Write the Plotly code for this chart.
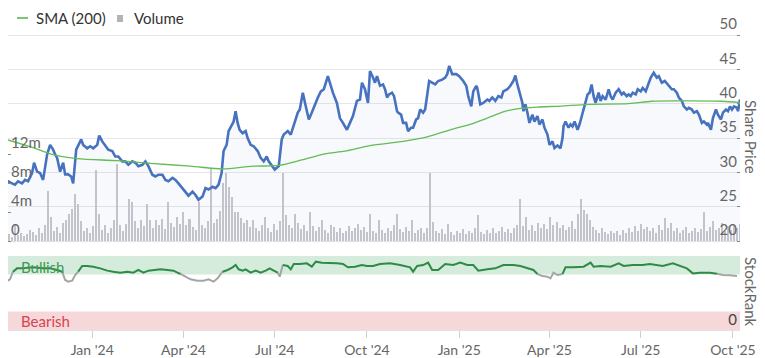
import pandas as pd
import plotly.graph_objects as go

# ---------------- data ----------------
start_date = "2023-10-07"   # day 0 of the day offsets below
view_start = "2023-10-09"   # first day shown
view_end = "2025-10-08"     # last day shown

# Share price: day offset from start_date, price
price_day = [0, 2, 6, 9, 12, 16, 19, 22, 26, 28, 31, 34, 37, 39, 41, 44, 47, 49, 51, 54,
             57, 59, 62, 65, 67, 70, 72, 75, 77, 81, 84, 87, 91, 93, 96, 99, 102, 106, 109, 112,
             116, 119, 122, 126, 129, 132, 136, 139, 142, 146, 149, 152, 156, 159, 162, 166, 169, 172, 176, 179,
             182, 186, 189, 192, 196, 199, 202, 206, 209, 212, 215, 217, 220, 222, 224, 227, 229, 231, 233, 236,
             239, 241, 244, 247, 251, 254, 257, 260, 262, 265, 268, 272, 275, 277, 281, 284, 287, 291, 293, 296,
             299, 302, 305, 308, 311, 314, 317, 321, 323, 326, 330, 333, 336, 340, 343, 346, 350, 353, 355, 358,
             361, 363, 366, 368, 370, 373, 376, 378, 380, 382, 385, 387, 390, 391, 394, 396, 399, 401, 404, 406,
             409, 411, 413, 416, 418, 420, 422, 425, 428, 431, 435, 438, 440, 442, 445, 449, 452, 456, 459, 461,
             464, 466, 469, 470, 473, 476, 480, 482, 485, 488, 491, 494, 496, 500, 503, 506, 508, 510, 512, 515,
             516, 518, 520, 522, 525, 527, 530, 532, 535, 537, 540, 542, 545, 547, 550, 552, 553, 555, 556, 558,
             561, 563, 565, 567, 570, 572, 575, 577, 580, 582, 584, 586, 588, 591, 593, 595, 598, 601, 603, 605,
             608, 611, 614, 616, 619, 621, 623, 625, 628, 630, 633, 635, 638, 640, 643, 646, 649, 651, 654, 657,
             660, 664, 666, 669, 671, 674, 676, 679, 681, 684, 686, 689, 691, 694, 696, 699, 700, 703, 705, 708,
             710, 713, 715, 718, 720, 722, 724, 726, 729, 730, 732]
price = [28.2, 28.7, 28.4, 28.2, 28.7, 28.4, 28.9, 28.7, 29.9, 31.4, 30.1, 29.9, 28.9, 30.6, 32.6, 34.0, 33.3, 32.6, 32.1, 30.1,
         31.4, 29.7, 29.7, 29.4, 28.4, 33.3, 34.0, 34.8, 34.0, 33.5, 33.8, 33.5, 34.0, 35.35, 34.5, 33.8, 33.3, 33.1, 32.3, 32.3,
         31.6, 31.6, 31.1, 31.6, 31.4, 30.9, 31.1, 31.6, 30.9, 29.65, 29.4, 29.65, 29.65, 28.9, 28.7, 29.2, 28.9, 28.4, 27.7, 27.1,
         26.6, 27.2, 26.7, 26.0, 26.5, 27.7, 27.5, 27.9, 27.7, 28.2, 29.9, 33.1, 34.0, 36.0, 36.5, 37.4, 38.9, 37.2, 36.2, 35.7,
         36.0, 35.0, 34.0, 33.8, 33.1, 32.1, 31.6, 32.3, 31.6, 30.9, 30.4, 30.9, 34.8, 35.5, 36.0, 35.5, 37.0, 38.7, 39.15, 41.6,
         39.6, 37.7, 38.7, 39.9, 40.9, 41.8, 42.1, 44.0, 43.05, 41.6, 40.1, 37.9, 37.2, 36.2, 37.2, 38.2, 40.4, 40.6, 43.05, 42.1,
         40.1, 44.75, 43.8, 43.05, 44.0, 42.6, 42.8, 42.1, 40.9, 41.35, 41.6, 41.1, 38.9, 38.7, 38.4, 37.2, 37.2, 36.0, 36.5, 36.5,
         37.7, 37.9, 39.15, 38.7, 39.15, 40.9, 43.3, 43.05, 42.8, 43.3, 43.5, 43.8, 44.3, 45.5, 44.3, 44.3, 44.0, 43.3, 42.6, 41.1,
         39.6, 41.8, 42.6, 42.3, 39.9, 40.1, 40.6, 40.4, 40.9, 40.4, 41.1, 40.9, 41.8, 42.1, 42.6, 43.3, 44.1, 42.8, 41.8, 40.1,
         38.9, 39.9, 38.7, 37.2, 38.4, 37.4, 38.2, 36.96, 37.7, 36.5, 35.5, 34.0, 34.5, 33.55, 33.9, 33.7, 33.5, 35.0, 36.7, 37.4,
         36.5, 37.0, 36.7, 37.4, 36.2, 37.0, 38.7, 39.6, 41.35, 41.6, 42.8, 41.1, 40.1, 41.6, 40.4, 41.1, 40.6, 42.1, 41.1, 40.6,
         41.6, 42.1, 41.35, 41.6, 41.1, 41.35, 41.1, 41.6, 41.35, 42.1, 41.8, 42.3, 41.8, 42.6, 43.8, 44.5, 43.8, 44.0, 43.05, 43.3,
         42.8, 42.1, 42.1, 41.6, 40.9, 40.4, 39.6, 39.15, 39.4, 39.15, 38.7, 38.9, 38.4, 37.2, 37.4, 36.96, 37.2, 36.2, 37.9, 39.15,
         38.4, 37.7, 38.7, 39.15, 38.9, 39.6, 39.15, 39.6, 39.4, 38.9, 40.6]

# 200-day simple moving average
sma_day = [0, 27, 44, 71, 111, 144, 184, 216, 246, 272, 295, 318, 338, 363, 396, 421, 443, 463, 480,
           496, 510, 530, 553, 581, 621, 644, 680, 714, 732]
sma = [34.8, 33.6, 32.7, 32.0, 31.7, 31.3, 30.9, 30.5, 30.9, 31.0, 31.8, 32.7, 33.1, 33.9, 34.5, 35.2, 36.2, 37.0, 37.9,
       38.8, 39.25, 39.5, 39.65, 39.9, 40.0, 40.35, 40.4, 40.35, 40.15]

# Volume (millions of shares), one bar per 3-day step from start_date
volume_step_days = 3
volume_m = [0.8, 1.0, 0.6, 2.4, 0.9, 1.2, 0.7, 1.0, 1.6, 1.3,
            0.9, 1.8, 1.1, 2.2, 7.0, 3.4, 1.5, 2.0, 1.2, 2.6,
            2.9, 3.8, 4.5, 6.6, 5.2, 2.8, 1.4, 1.9, 1.1, 2.1,
            9.8, 3.8, 1.6, 2.3, 1.2, 1.8, 2.9, 10.7, 2.2, 1.5,
            2.4, 5.9, 5.4, 2.8, 1.9, 3.0, 2.1, 5.2, 2.9, 1.8,
            2.9, 2.2, 3.1, 1.7, 5.4, 2.6, 2.0, 3.3, 2.4, 4.0,
            2.2, 3.1, 2.0, 1.6, 5.4, 2.3, 1.8, 2.8, 10.1, 2.6,
            3.1, 4.2, 8.1, 9.4, 7.5, 6.1, 4.0, 4.1, 3.2, 2.6,
            2.9, 2.0, 3.0, 1.9, 1.5, 2.2, 3.4, 1.8, 1.3, 2.4,
            1.6, 2.8, 9.4, 3.6, 2.3, 1.9, 3.8, 2.5, 1.7, 2.2,
            1.4, 4.0, 2.1, 1.5, 2.0, 2.9, 1.6, 1.2, 2.3, 2.0,
            1.3, 1.8, 1.1, 1.5, 2.1, 1.4, 1.9, 2.4, 1.6, 2.0,
            1.3, 3.8, 1.5, 1.1, 2.9, 1.6, 1.2, 1.9, 1.4, 2.2,
            3.8, 1.7, 1.3, 2.0, 1.5, 2.9, 1.2, 1.6, 1.9, 1.1,
            1.8, 9.5, 2.7, 1.5, 1.2, 1.7, 1.0, 2.4, 1.3, 0.9,
            1.4, 1.1, 1.7, 1.0, 1.5, 1.2, 1.9, 3.6, 1.3, 1.0,
            1.6, 1.2, 1.8, 1.1, 1.4, 2.0, 1.3, 1.7, 1.1, 1.9,
            2.3, 5.9, 2.1, 3.4, 1.6, 2.2, 1.5, 2.6, 1.8, 2.4,
            1.7, 3.4, 2.2, 2.7, 1.9, 2.3, 1.6, 2.0, 2.8, 1.7,
            3.8, 5.9, 4.4, 3.8, 2.9, 2.0, 1.6, 1.2, 1.8, 1.3,
            1.0, 1.5, 1.1, 1.4, 0.9, 1.6, 1.2, 1.8, 1.3, 2.1,
            1.5, 2.4, 1.7, 2.0, 1.4, 1.8, 1.2, 2.2, 1.6, 3.2,
            1.9, 2.5, 1.4, 1.9, 1.2, 1.6, 2.0, 1.1, 1.4, 1.9,
            1.3, 1.7, 4.0, 1.5, 2.0, 2.8, 1.6, 1.9, 2.6, 1.4,
            2.1, 1.6, 2.3, 1.8, 2.4]

# StockRank (0-100)
rank_day = [0, 4, 7, 11, 17, 27, 37, 44, 51, 56, 59, 62, 66, 69, 72, 76, 81, 87, 94, 101,
            107, 114, 121, 127, 132, 137, 142, 147, 154, 161, 167, 171, 174, 179, 184, 191, 197, 202, 207, 211,
            216, 221, 226, 229, 232, 236, 239, 244, 249, 254, 259, 263, 267, 271, 273, 276, 281, 284, 287, 293,
            300, 305, 309, 315, 323, 330, 336, 341, 348, 355, 360, 366, 373, 383, 393, 403, 406, 410, 416, 421,
            425, 431, 438, 446, 453, 460, 466, 471, 480, 488, 496, 506, 513, 520, 526, 530, 535, 540, 543, 546,
            550, 555, 558, 566, 576, 583, 586, 593, 603, 611, 616, 625, 635, 642, 649, 655, 665, 672, 679, 685,
            692, 702, 709, 715, 722, 729]
rank = [65.3, 68.5, 78.8, 83.3, 83.3, 84.7, 83.3, 83.3, 81.1, 78.8, 67.6, 65.3, 66.7, 74.3, 78.8, 86.5, 86.5, 85.6, 83.3, 80.2,
        78.8, 77.5, 78.8, 77.5, 81.1, 77.5, 80.2, 81.1, 82.0, 81.1, 80.2, 77.5, 75.7, 72.1, 68.5, 66.7, 66.7, 68.5, 65.3, 69.8,
        78.8, 81.1, 84.7, 87.8, 82.0, 80.2, 82.0, 77.5, 80.2, 77.5, 80.2, 83.3, 80.2, 77.5, 72.1, 87.8, 86.5, 82.0, 89.2, 89.2,
        90.1, 85.6, 92.3, 91.0, 91.0, 90.1, 89.2, 84.7, 85.6, 87.8, 86.5, 86.5, 89.2, 90.1, 87.8, 84.7, 78.8, 86.5, 87.8, 91.0,
        81.1, 81.1, 89.2, 87.8, 91.0, 87.8, 87.8, 80.2, 82.0, 83.3, 87.8, 87.8, 86.5, 83.3, 81.1, 75.7, 72.9, 72.1, 69.8, 77.5,
        74.3, 75.7, 84.7, 84.7, 85.6, 91.0, 85.6, 86.5, 85.6, 90.1, 86.5, 87.8, 87.8, 89.2, 87.8, 86.5, 90.1, 86.5, 83.3, 76.5,
        77.5, 77.5, 76.0, 74.3, 74.0, 73.0]

bullish_range = [75, 100]
bearish_range = [0, 25]
month_ticks_from = "2024-01-01"

# ---------------- build ----------------
t0 = pd.Timestamp(start_date)
price_dates = [t0 + pd.Timedelta(days=d) for d in price_day]
sma_dates = [t0 + pd.Timedelta(days=d) for d in sma_day]
vol_dates = [t0 + pd.Timedelta(days=i * volume_step_days) for i in range(len(volume_m))]
rank_dates = [t0 + pd.Timedelta(days=d) for d in rank_day]

FONT = "Lato, 'Open Sans', sans-serif"
GREY_TXT = "#666666"
thr = bullish_range[0]

# colour the StockRank line: green inside the bullish band, grey below it
rank_green = [r if r >= thr else None for r in rank]
rank_grey = []
for i, r in enumerate(rank):
    near = r < thr or (i > 0 and rank[i - 1] < thr) or (i < len(rank) - 1 and rank[i + 1] < thr)
    rank_grey.append(r if near else None)

fig = go.Figure()

fig.add_trace(go.Bar(
    x=vol_dates, y=[v * 1e6 for v in volume_m], xaxis="x", yaxis="y",
    marker=dict(color="#c8c8cd", line=dict(width=0)),
    width=2 * 86400000, name="Volume", showlegend=False,
))
fig.add_trace(go.Scatter(
    x=price_dates, y=price, xaxis="x", yaxis="y3", mode="lines",
    line=dict(color="#4672bf", width=2.6), fill="tozeroy",
    fillcolor="rgba(70,110,190,0.04)", name="Share Price", showlegend=False,
))
fig.add_trace(go.Scatter(
    x=sma_dates, y=sma, xaxis="x", yaxis="y3", mode="lines",
    line=dict(color="#62bd55", width=1.3, shape="spline", smoothing=0.8),
    name="SMA (200)", showlegend=False,
))
fig.add_trace(go.Scatter(
    x=rank_dates, y=rank_grey, xaxis="x", yaxis="y2", mode="lines",
    line=dict(color="#a5a5a5", width=2), connectgaps=False, showlegend=False, name="StockRank",
))
fig.add_trace(go.Scatter(
    x=rank_dates, y=rank_green, xaxis="x", yaxis="y2", mode="lines",
    line=dict(color="#2e8b45", width=2), connectgaps=False, showlegend=False, name="StockRank",
))

# the page body has an 8px margin, so the figure is drawn 8px in from the window edge
OFF = 8
W, H = 765 - OFF, 358 - OFF
ml, mr, mt, mb = 0, 25, 25, 28
ph = H - mt - mb
pw = W - ml - mr

def px_x(sx):  # window x -> paper fraction
    return (sx - OFF - ml) / pw

def px_y(sy):  # window y -> paper fraction
    return (H - mb - (sy - OFF)) / ph

# price 20..50 spans window y 241..35; pad the axis a little so edge gridlines are drawn
pad_px = 1.4
price_px_per_unit = (241 - 35) / 30.0
price_pad = pad_px / price_px_per_unit
vol_px_per_m = 29 / 4.0
vol_pad = pad_px / vol_px_per_m
price_top_px, price_bot_px = 35 - pad_px, 241 + pad_px
vol_top_m = (price_bot_px - price_top_px) / vol_px_per_m - vol_pad

price_dom = [px_y(price_bot_px), px_y(price_top_px)]
rank_top = px_y(256)

fig.update_layout(
    width=W, height=H,
    margin=dict(l=ml, r=mr, t=mt, b=mb, autoexpand=False),
    paper_bgcolor="white", plot_bgcolor="white",
    font=dict(family=FONT, size=15, color=GREY_TXT),
    showlegend=False,
    bargap=0,
    xaxis=dict(
        type="date", range=[view_start, view_end], domain=[0, 1], anchor="y2",
        tick0=month_ticks_from, dtick="M3", tickformat="%b '%y",
        ticks="outside", ticklen=7, tickcolor="#d0d0d0", showgrid=False,
        showline=True, linecolor="#e3e3e3", linewidth=1, ticklabeloverflow="allow",
        tickfont=dict(family=FONT, size=14, color=GREY_TXT), automargin=False,
    ),
    yaxis=dict(
        domain=price_dom, range=[-vol_pad * 1e6, vol_top_m * 1e6], side="left", anchor="x",
        tickvals=[0, 4e6, 8e6, 12e6], ticktext=["0", "4m", "8m", "12m"],
        ticklabelposition="inside top", ticks="inside", ticklen=3, tickcolor="#888",
        showgrid=False, zeroline=False, showline=False, ticklabeloverflow="allow",
        tickfont=dict(family=FONT, size=15, color=GREY_TXT), automargin=False,
    ),
    yaxis3=dict(
        overlaying="y", side="right", anchor="x", range=[20 - price_pad, 50 + price_pad], dtick=5, tick0=20,
        ticklabelposition="inside top", ticks="inside", ticklen=3, tickcolor="#888",
        showgrid=True, gridcolor="#e6e6e6", gridwidth=1, zeroline=False, ticklabeloverflow="allow",
        tickfont=dict(family=FONT, size=15, color=GREY_TXT), automargin=False,
    ),
    yaxis2=dict(
        domain=[0, rank_top], range=[0, 100], side="right", anchor="x",
        tickvals=[0], ticktext=["0"], ticklabelposition="inside top", ticklabeloverflow="allow",
        showgrid=False, zeroline=False, showline=False, automargin=False,
        tickfont=dict(family=FONT, size=15, color="#444"),
    ),
    shapes=[
        dict(type="rect", xref="paper", x0=0, x1=1, yref="y2", y0=bullish_range[0], y1=bullish_range[1],
             fillcolor="#d5ebdc", line=dict(width=0), layer="below"),
        dict(type="rect", xref="paper", x0=0, x1=1, yref="y2", y0=bearish_range[0], y1=bearish_range[1],
             fillcolor="#f6d8da", line=dict(width=0), layer="below"),
        # legend symbols
        dict(type="line", xref="paper", yref="paper", x0=px_x(17), x1=px_x(28), y0=px_y(18), y1=px_y(18),
             line=dict(color="#7cc576", width=2)),
        dict(type="rect", xref="paper", yref="paper", x0=px_x(117), x1=px_x(123), y0=px_y(22), y1=px_y(15),
             fillcolor="#b3b3ba", line=dict(width=0)),
    ],
    annotations=[
        dict(text="SMA (200)", xref="paper", yref="paper", x=px_x(34), y=px_y(18), xanchor="left",
             yanchor="middle", showarrow=False, font=dict(family=FONT, size=15, color="#333")),
        dict(text="Volume", xref="paper", yref="paper", x=px_x(132), y=px_y(18), xanchor="left",
             yanchor="middle", showarrow=False, font=dict(family=FONT, size=15, color="#333")),
        dict(text="Share Price", xref="paper", yref="paper", x=px_x(751), y=px_y(137), textangle=90,
             xanchor="center", yanchor="middle", showarrow=False, font=dict(family=FONT, size=15, color=GREY_TXT)),
        dict(text="StockRank", xref="paper", yref="paper", x=px_x(751), y=px_y(292), textangle=90,
             xanchor="center", yanchor="middle", showarrow=False, font=dict(family=FONT, size=15, color=GREY_TXT)),
        dict(text="Bullish", xref="paper", yref="y2", x=px_x(19), y=85, xanchor="left", yanchor="middle",
             showarrow=False, font=dict(family=FONT, size=15, color="#3f9a55")),
        dict(text="Bearish", xref="paper", yref="y2", x=px_x(19), y=12, xanchor="left", yanchor="middle",
             showarrow=False, font=dict(family=FONT, size=15, color="#d9434f")),
    ],
)

fig.write_html("out.html")
